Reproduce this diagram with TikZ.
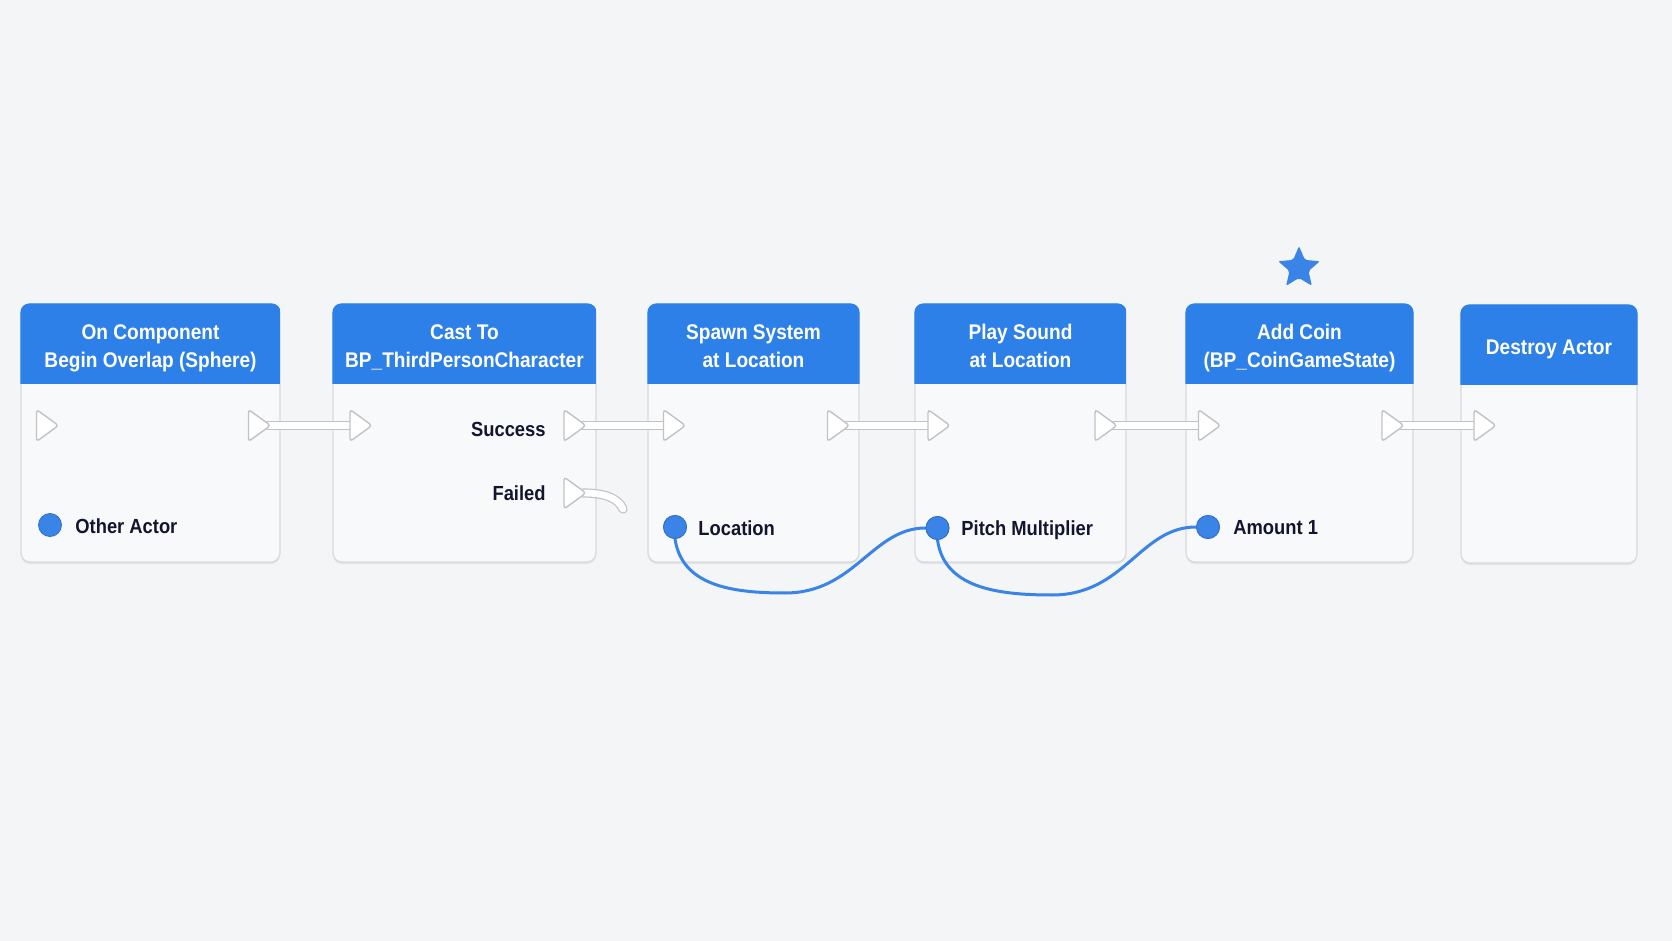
\documentclass[tikz,border=0pt]{standalone}
\usepackage{fontspec}
\setmainfont{Liberation Sans}[FakeStretch=0.9]
\usetikzlibrary{shapes.geometric,shadows}
\definecolor{bgcol}{RGB}{244,245,247}
\definecolor{bodyfill}{RGB}{248,249,250}
\definecolor{bodyline}{RGB}{216,218,222}
\definecolor{hdrblue}{RGB}{45,128,231}
\definecolor{datablue}{RGB}{58,132,232}
\definecolor{navy}{RGB}{18,21,46}
\definecolor{pinline}{RGB}{192,194,198}
\tikzset{
  body/.style={draw=bodyline, line width=0.6pt, fill=bodyfill, rounded corners=4.5pt, inner sep=0pt,
    minimum height=129pt, drop shadow={shadow xshift=0pt, shadow yshift=-1pt, opacity=0.07, fill=black}},
  title/.style={align=center, text=white, font=\bfseries\fontsize{10.6}{14}\selectfont, inner sep=0pt},
  lbl/.style={text=navy, font=\bfseries\fontsize{10.2}{12}\selectfont, inner sep=0pt},
  execpin/.pic={\draw[draw=pinline, line width=0.7pt, fill=white, rounded corners=1.6pt]
     (-5.5pt,8pt) -- (5.5pt,0pt) -- (-5.5pt,-8pt) -- cycle;},
  execwire/.style={draw=pinline, line width=0.6pt, double=white, double distance=3.4pt, line cap=round},
  datapin/.style={circle, fill=datablue, draw=datablue!85!black, line width=0.4pt, minimum size=11.5pt, inner sep=0pt},
  datawire/.style={draw=datablue, line width=1.5pt, line cap=round},
}
\newcommand{\hdr}[1]{%
  \begin{scope}
    \clip[rounded corners=4.5pt] (#1.south west) rectangle (#1.north east);
    \fill[hdrblue] (#1.north west) rectangle ([yshift=-40.5pt]#1.north east);
  \end{scope}}
\newcommand{\ttl}[2]{\strut #1\\\strut #2}
\begin{document}
\begin{tikzpicture}[x=0.5pt,y=-0.5pt]
\fill[bgcol] (0,0) rectangle (1672,941);
\useasboundingbox (0,0) rectangle (1672,941);

% node bodies
\node[body, minimum width=129.5pt] (n1) at (150.5,433) {};
\node[body, minimum width=131.5pt] (n2) at (464.5,433) {};
\node[body, minimum width=105.5pt] (n3) at (753.5,433) {};
\node[body, minimum width=105.5pt] (n4) at (1020.5,433) {};
\node[body, minimum width=113.5pt] (n5) at (1299.5,433) {};
\node[body, minimum width=88pt]    (n6) at (1549,434) {};
\hdr{n1}\hdr{n2}\hdr{n3}\hdr{n4}\hdr{n5}\hdr{n6}

% titles
\node[title] (t1) at (150.5,348) {\ttl{On Component}{Begin Overlap (Sphere)}};
\node[title] (t2) at (464.5,348) {\ttl{Cast To}{BP\_ThirdPersonCharacter}};
\node[title] (t3) at (753.5,348) {\ttl{Spawn System}{at Location}};
\node[title] (t4) at (1020.5,348) {\ttl{Play Sound}{at Location}};
\node[title] (t5) at (1299.5,348) {\ttl{Add Coin}{(BP\_CoinGameState)}};
\node[title] (t6) at (1549,349) {\strut Destroy Actor};

% star
\node[star, star points=5, star point ratio=2.2, minimum size=22pt, inner sep=0pt,
      fill=datablue, rounded corners=1pt] (st) at (1299,268) {};

% exec pin coordinates
\coordinate (p1i) at (47.5,425.5);
\coordinate (p1o) at (259.5,425.5);
\coordinate (p2i) at (361,425.5);
\coordinate (p2s) at (575,425.5);
\coordinate (p2f) at (575,493);
\coordinate (p3i) at (674.5,425.5);
\coordinate (p3o) at (838.5,425.5);
\coordinate (p4i) at (939,425.5);
\coordinate (p4o) at (1106,425.5);
\coordinate (p5i) at (1209.5,425.5);
\coordinate (p5o) at (1393,425.5);
\coordinate (p6i) at (1485,425.5);
\coordinate (fend) at (623,509);

% exec wires
\draw[execwire] ([xshift=4pt]p1o) -- ([xshift=-5pt]p2i);
\draw[execwire] ([xshift=4pt]p2s) -- ([xshift=-5pt]p3i);
\draw[execwire] ([xshift=4pt]p3o) -- ([xshift=-5pt]p4i);
\draw[execwire] ([xshift=4pt]p4o) -- ([xshift=-5pt]p5i);
\draw[execwire] ([xshift=4pt]p5o) -- ([xshift=-5pt]p6i);
\draw[execwire] ([xshift=4pt]p2f) .. controls (605,493) and (618,498) .. (fend);

% exec pins
\foreach \p in {p1i,p1o,p2i,p2s,p2f,p3i,p3o,p4i,p4o,p5i,p5o,p6i}
  \pic at (\p) {execpin};

% data pins
\node[datapin] (d1) at (50,525) {};
\node[datapin] (d3) at (675,527) {};
\node[datapin] (d4) at (937.5,528) {};
\node[datapin] (d5) at (1208,527) {};

% data wires
\draw[datawire] (d3.south) .. controls (682,585) and (730,593) .. (785,593)
   .. controls (855,593) and (872,528) .. (d4.west);
\draw[datawire] (d4.south) .. controls (944,587) and (995,595) .. (1052,595)
   .. controls (1125,595) and (1140,527) .. (d5.west);
\node[datapin] at (d3) {};
\node[datapin] at (d4) {};
\node[datapin] at (d5) {};

% labels
\node[lbl, anchor=west] (l1) at (75,526) {Other Actor};
\node[lbl, anchor=east] (l2) at (546,429) {Success};
\node[lbl, anchor=east] (l3) at (546,493) {Failed};
\node[lbl, anchor=west] (l4) at (698,528) {Location};
\node[lbl, anchor=west] (l5) at (961,530) {Pitch Multiplier};
\node[lbl, anchor=west] (l6) at (1233,528) {Amount 1};
\end{tikzpicture}
\end{document}
